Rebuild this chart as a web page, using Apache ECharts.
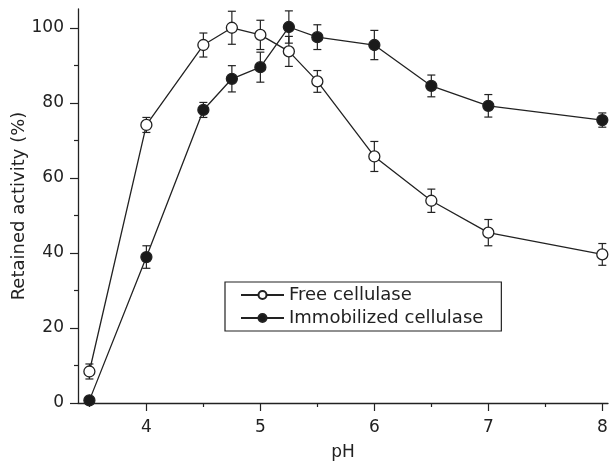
<!DOCTYPE html>
<html>
<head>
<meta charset="utf-8">
<script src="https://cdn.jsdelivr.net/npm/echarts@6/dist/echarts.min.js"></script>
<style>
  html, body { margin: 0; padding: 0; background: #fff; }
  #chart { width: 611px; height: 462px; }
</style>
</head>
<body>
<div id="chart"></div>
<script>
// pH values and retained activity (%)
const phValues = [3.5, 4, 4.5, 4.75, 5, 5.25, 5.5, 6, 6.5, 7, 8];
const freeActivity = [8.4, 74.1, 95.4, 100, 98.1, 93.7, 85.7, 65.7, 53.9, 45.4, 39.6];
const freeError = [2, 2, 3.2, 4.4, 3.9, 4, 2.9, 4, 3.1, 3.5, 2.9];
const immobActivity = [0.7, 38.9, 78.1, 86.4, 89.5, 100.2, 97.5, 95.4, 84.5, 79.2, 75.4];
const immobError = [0, 3, 2, 3.5, 4, 4.3, 3.3, 3.9, 2.9, 3, 1.9];

// tick labels
const xMajorTicks = [4, 5, 6, 7, 8];
const xMinorTicks = [3.5, 4.5, 5.5, 6.5, 7.5];
const yMajorTicks = [0, 20, 40, 60, 80, 100];
const yMinorTicks = [10, 30, 50, 70, 90];

const ink = "#222";
const font = "DejaVu Sans, Liberation Sans, sans-serif";

function pairs(ys) {
  return phValues.map((x, i) => [x, ys[i]]);
}
function errData(ys, errs) {
  return phValues.map((x, i) => [x, ys[i], errs[i]]);
}

// vertical error bar with caps
function renderErr(params, api) {
  const err = api.value(2);
  if (!err) return null;
  const x = api.value(0);
  const y = api.value(1);
  const top = api.coord([x, y + err]);
  const bot = api.coord([x, y - err]);
  const cap = 4;
  const style = { stroke: ink, lineWidth: 1.2 };
  return {
    type: "group",
    children: [
      { type: "line", shape: { x1: top[0], y1: top[1], x2: bot[0], y2: bot[1] }, style: style },
      { type: "line", shape: { x1: top[0] - cap, y1: top[1], x2: top[0] + cap, y2: top[1] }, style: style },
      { type: "line", shape: { x1: bot[0] - cap, y1: bot[1], x2: bot[0] + cap, y2: bot[1] }, style: style },
    ],
  };
}

const myChart = echarts.init(document.getElementById("chart"));

const axisBase = {
  type: "value",
  splitLine: { show: false },
};

myChart.setOption({
  animation: false,
  textStyle: { fontFamily: font },
  grid: { left: 78, right: 3, top: 9, bottom: 59, outerBoundsMode: "none" },
  legend: {
    left: 225,
    top: 282,
    orient: "vertical",
    borderColor: ink,
    borderWidth: 1.2,
    padding: [4, 18, 4, 15],
    itemGap: 5,
    itemWidth: 43,
    itemHeight: 10,
    textStyle: { fontSize: 18, color: ink, fontFamily: font },
    data: ["Free cellulase", "Immobilized cellulase"],
  },
  xAxis: [
    Object.assign({}, axisBase, {
      min: 3.4,
      max: 8.05,
      name: "pH",
      nameLocation: "middle",
      nameGap: 41,
      nameMoveOverlap: false,
      nameTextStyle: { fontSize: 17, color: ink },
      axisLine: { show: true, lineStyle: { color: ink, width: 1.3 } },
      axisTick: { show: true, length: 8, customValues: xMajorTicks, lineStyle: { color: ink, width: 1.2 } },
      axisLabel: { fontSize: 17, color: ink, margin: 16, customValues: xMajorTicks },
    }),
    Object.assign({}, axisBase, {
      min: 3.4,
      max: 8.05,
      position: "bottom",
      axisLine: { show: false },
      axisTick: { show: true, length: 4, customValues: xMinorTicks, lineStyle: { color: ink, width: 1.2 } },
      axisLabel: { show: false },
    }),
  ],
  yAxis: [
    Object.assign({}, axisBase, {
      min: 0,
      max: 105,
      name: "Retained activity (%)",
      nameLocation: "middle",
      nameGap: 50,
      nameMoveOverlap: false,
      nameTextStyle: { fontSize: 18, color: ink },
      axisLine: { show: true, lineStyle: { color: ink, width: 1.3 } },
      axisTick: { show: true, length: 8, customValues: yMajorTicks, lineStyle: { color: ink, width: 1.2 } },
      axisLabel: { fontSize: 17, color: ink, margin: 14, customValues: yMajorTicks },
    }),
    Object.assign({}, axisBase, {
      min: 0,
      max: 105,
      position: "left",
      axisLine: { show: false },
      axisTick: { show: true, length: 4, customValues: yMinorTicks, lineStyle: { color: ink, width: 1.2 } },
      axisLabel: { show: false },
    }),
  ],
  series: [
    {
      type: "custom",
      renderItem: renderErr,
      data: errData(freeActivity, freeError),
      encode: { x: 0, y: 1 },
      z: 1,
      silent: true,
    },
    {
      type: "custom",
      renderItem: renderErr,
      data: errData(immobActivity, immobError),
      encode: { x: 0, y: 1 },
      z: 1,
      silent: true,
    },
    {
      name: "Free cellulase",
      type: "line",
      data: pairs(freeActivity),
      symbol: "circle",
      symbolSize: 11,
      showAllSymbol: true,
      lineStyle: { color: ink, width: 1.3 },
      itemStyle: { color: "#fff", borderColor: ink, borderWidth: 1.3 },
      z: 3,
    },
    {
      name: "Immobilized cellulase",
      type: "line",
      data: pairs(immobActivity),
      symbol: "circle",
      symbolSize: 11,
      showAllSymbol: true,
      lineStyle: { color: ink, width: 1.3 },
      itemStyle: { color: "#1a1a1a", borderColor: ink, borderWidth: 1.3 },
      z: 3,
    },
  ],
});
</script>
</body>
</html>
